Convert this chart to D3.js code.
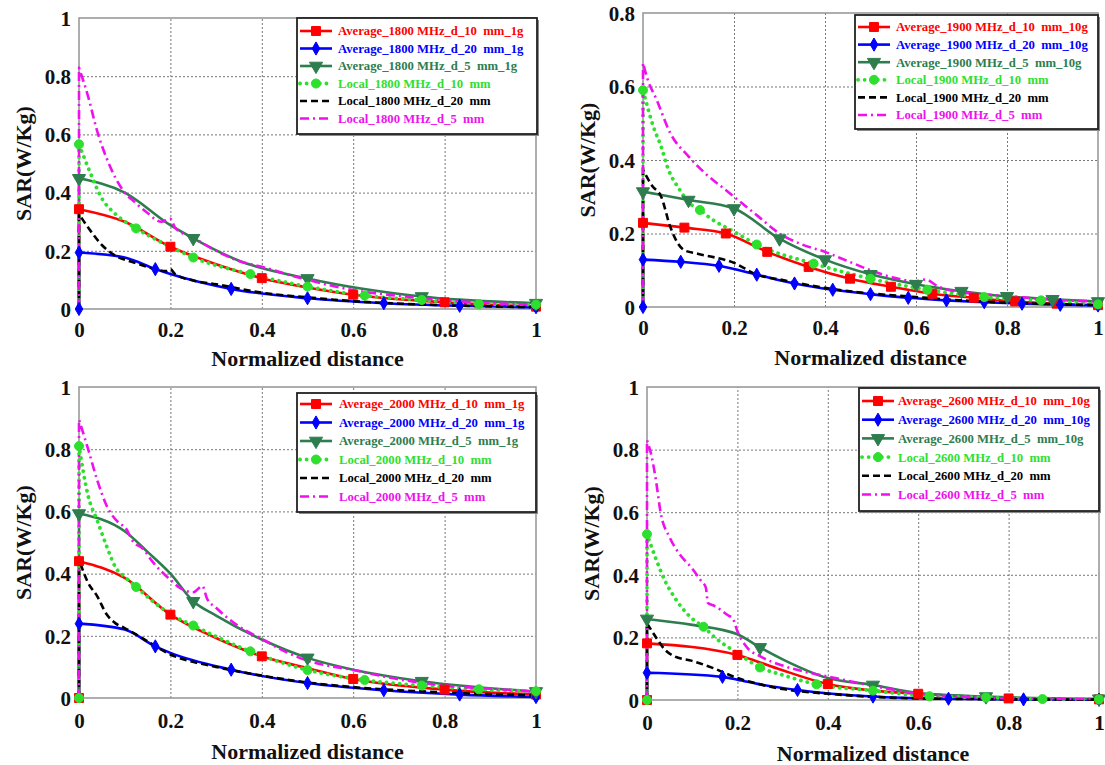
<!DOCTYPE html>
<html>
<head>
<meta charset="utf-8">
<script src="https://cdn.jsdelivr.net/npm/d3@7"></script>
<style>
body { margin: 0; background: #fff; }
svg text { font-family: "Liberation Serif", "Times New Roman", serif; font-weight: bold; }
</style>
</head>
<body>
<svg id="chart" width="1105" height="765"></svg>
<script>
// ---- data ----
var xTickValues = [0, 0.2, 0.4, 0.6, 0.8, 1];
var yTickValues1 = [0, 0.2, 0.4, 0.6, 0.8, 1];
var yTickValues08 = [0, 0.2, 0.4, 0.6, 0.8];
var frequencies = ["1800", "1900", "2000", "2600"];
var massLabels = ["1g", "10g", "1g", "10g"];

// 1800 MHz
var p1Avg10 = [[0,0],[0,0.343],[0.1,0.30],[0.2,0.214],[0.3,0.154],[0.4,0.106],[0.5,0.074],[0.6,0.049],[0.8,0.023],[1,0.008]];
var p1Avg20 = [[0,0],[0,0.194],[0.1,0.177],[0.167,0.137],[0.2,0.12],[0.333,0.069],[0.5,0.037],[0.667,0.02],[0.833,0.011],[1,0.006]];
var p1Avg5  = [[0,0],[0,0.449],[0.1,0.40],[0.2,0.288],[0.25,0.243],[0.35,0.166],[0.5,0.105],[0.75,0.043],[1,0.02]];
var p1Loc10 = [[0,0],[0,0.566],[0.02,0.486],[0.05,0.38],[0.08,0.326],[0.125,0.277],[0.2,0.214],[0.25,0.177],[0.375,0.12],[0.5,0.077],[0.625,0.046],[0.75,0.031],[0.875,0.017],[1,0.015]];
var p1Loc20 = [[0,0],[0,0.326],[0.02,0.28],[0.05,0.22],[0.08,0.183],[0.12,0.16],[0.16,0.14],[0.19,0.13],[0.2,0.137],[0.21,0.12],[0.25,0.098],[0.3,0.085],[0.4,0.056],[0.5,0.04],[0.6,0.027],[0.8,0.013],[1,0.006]];
var p1Loc5  = [[0,0],[0,0.829],[0.02,0.73],[0.04,0.61],[0.06,0.52],[0.1,0.40],[0.12,0.37],[0.15,0.33],[0.18,0.30],[0.2,0.31],[0.21,0.28],[0.25,0.245],[0.3,0.20],[0.35,0.165],[0.4,0.145],[0.5,0.1],[0.6,0.065],[0.7,0.045],[0.8,0.03],[0.9,0.02],[1,0.015]];

// 1900 MHz
var p2Avg10 = [[0,0],[0,0.229],[0.091,0.216],[0.182,0.2],[0.273,0.15],[0.364,0.109],[0.455,0.077],[0.545,0.055],[0.636,0.036],[0.727,0.025],[0.818,0.015],[0.909,0.009],[1,0.005]];
var p2Avg20 = [[0,0],[0,0.129],[0.083,0.123],[0.167,0.112],[0.25,0.088],[0.333,0.064],[0.417,0.047],[0.5,0.035],[0.583,0.025],[0.667,0.018],[0.75,0.013],[0.833,0.009],[0.917,0.006],[1,0.004]];
var p2Avg5  = [[0,0],[0,0.314],[0.1,0.291],[0.2,0.268],[0.3,0.186],[0.4,0.129],[0.5,0.089],[0.6,0.062],[0.7,0.043],[0.8,0.029],[0.9,0.021],[1,0.015]];
var p2Loc10 = [[0,0],[0,0.59],[0.023,0.49],[0.04,0.436],[0.054,0.38],[0.08,0.32],[0.1,0.285],[0.125,0.264],[0.15,0.24],[0.2,0.205],[0.25,0.17],[0.375,0.118],[0.5,0.077],[0.625,0.047],[0.75,0.027],[0.875,0.018],[1,0.007]];
var p2Loc20 = [[0,0],[0,0.373],[0.02,0.33],[0.04,0.30],[0.06,0.218],[0.09,0.155],[0.12,0.145],[0.2,0.12],[0.25,0.088],[0.3,0.075],[0.4,0.052],[0.5,0.037],[0.6,0.027],[0.7,0.018],[0.8,0.012],[1,0.005]];
var p2Loc5  = [[0,0],[0,0.664],[0.01,0.62],[0.03,0.564],[0.06,0.473],[0.1,0.41],[0.14,0.36],[0.18,0.32],[0.2,0.3],[0.25,0.25],[0.3,0.2],[0.35,0.17],[0.4,0.15],[0.45,0.125],[0.5,0.1],[0.55,0.08],[0.6,0.07],[0.62,0.075],[0.65,0.055],[0.7,0.04],[0.8,0.03],[0.9,0.02],[1,0.015]];

// 2000 MHz
var p3Avg10 = [[0,0],[0,0.44],[0.1,0.386],[0.2,0.268],[0.3,0.193],[0.4,0.134],[0.5,0.096],[0.6,0.061],[0.8,0.027],[1,0.011]];
var p3Avg20 = [[0,0],[0,0.239],[0.1,0.22],[0.167,0.166],[0.2,0.145],[0.333,0.091],[0.5,0.048],[0.667,0.025],[0.833,0.011],[1,0.003]];
var p3Avg5  = [[0,0],[0,0.593],[0.1,0.536],[0.15,0.47],[0.2,0.40],[0.25,0.311],[0.3,0.265],[0.4,0.188],[0.5,0.129],[0.6,0.091],[0.75,0.054],[1,0.021]];
var p3Loc10 = [[0,0],[0,0.81],[0.02,0.65],[0.04,0.57],[0.06,0.49],[0.08,0.42],[0.1,0.39],[0.125,0.357],[0.2,0.27],[0.25,0.233],[0.375,0.15],[0.5,0.09],[0.625,0.058],[0.75,0.04],[0.875,0.028],[1,0.022]];
var p3Loc20 = [[0,0],[0,0.445],[0.02,0.37],[0.04,0.327],[0.06,0.27],[0.08,0.24],[0.1,0.225],[0.13,0.2],[0.2,0.14],[0.3,0.1],[0.4,0.072],[0.5,0.05],[0.6,0.035],[0.8,0.018],[1,0.008]];
var p3Loc5  = [[0,0],[0,0.895],[0.02,0.8],[0.04,0.7],[0.06,0.62],[0.09,0.56],[0.1,0.55],[0.12,0.5],[0.14,0.48],[0.16,0.44],[0.2,0.38],[0.22,0.355],[0.25,0.34],[0.27,0.36],[0.28,0.32],[0.3,0.29],[0.35,0.23],[0.4,0.19],[0.45,0.15],[0.5,0.12],[0.6,0.09],[0.7,0.06],[0.8,0.04],[0.9,0.03],[1,0.02]];

// 2600 MHz
var p4Avg10 = [[0,0],[0,0.181],[0.2,0.144],[0.25,0.12],[0.3,0.095],[0.4,0.051],[0.5,0.03],[0.6,0.02],[0.8,0.005],[1,0.002]];
var p4Avg20 = [[0,0],[0,0.087],[0.167,0.074],[0.2,0.065],[0.25,0.05],[0.333,0.032],[0.5,0.011],[0.667,0.004],[0.833,0.002],[1,0.001]];
var p4Avg5  = [[0,0],[0,0.259],[0.1,0.24],[0.2,0.21],[0.25,0.168],[0.3,0.13],[0.4,0.07],[0.5,0.048],[0.6,0.022],[0.75,0.011],[1,0.004]];
var p4Loc10 = [[0,0],[0,0.53],[0.02,0.45],[0.04,0.38],[0.06,0.33],[0.08,0.29],[0.1,0.26],[0.125,0.234],[0.15,0.2],[0.2,0.15],[0.25,0.104],[0.3,0.08],[0.375,0.05],[0.5,0.03],[0.625,0.012],[0.75,0.008],[0.875,0.003],[1,0.002]];
var p4Loc20 = [[0,0],[0,0.245],[0.02,0.2],[0.04,0.16],[0.06,0.14],[0.1,0.125],[0.15,0.1],[0.2,0.07],[0.25,0.05],[0.3,0.035],[0.4,0.02],[0.5,0.01],[0.6,0.005],[1,0.001]];
var p4Loc5  = [[0,0],[0,0.83],[0.01,0.78],[0.02,0.7],[0.03,0.6],[0.05,0.52],[0.07,0.47],[0.1,0.42],[0.12,0.38],[0.13,0.36],[0.135,0.31],[0.15,0.3],[0.18,0.27],[0.19,0.26],[0.2,0.22],[0.22,0.17],[0.25,0.14],[0.3,0.11],[0.35,0.09],[0.4,0.075],[0.5,0.045],[0.6,0.02],[0.7,0.01],[0.8,0.005],[1,0.003]];

// marker spacing along x for each series (null = no markers)
var markerStepsA = [0.2, 1/6, 0.25, 0.125, null, null];
var markerStepsB = [1/11, 1/12, 0.1, 0.125, null, null];

// ---- styles ----
var seriesStyle = [
  {color: "#ff0000", dash: null, width: 2.6, marker: "square"},
  {color: "#0000ff", dash: null, width: 2.6, marker: "diamond"},
  {color: "#2e7d4e", dash: null, width: 2.6, marker: "triangle"},
  {color: "#2ee02e", dash: "0.1,6.5", width: 3.8, marker: "circle"},
  {color: "#000000", dash: "7,4", width: 2.6, marker: null},
  {color: "#ee11ee", dash: "9,4,2,4", width: 2.6, marker: null}
];

var panels = [
  {series: [p1Avg10,p1Avg20,p1Avg5,p1Loc10,p1Loc20,p1Loc5], steps: markerStepsA, zeroMarks: [1],
   yMax: 1, yTicks: yTickValues1, left: 79, right: 536, top: 18, bottom: 309,
   legend: {x: 297, y: 18, w: 240, h: 116, first: 13, row: 17.5, tx: 41}, tickDy: 28, titleDy: 57},
  {series: [p2Avg10,p2Avg20,p2Avg5,p2Loc10,p2Loc20,p2Loc5], steps: markerStepsB, zeroMarks: [1],
   yMax: 0.8, yTicks: yTickValues08, left: 643, right: 1098, top: 13, bottom: 307,
   legend: {x: 855, y: 15, w: 243, h: 114, first: 12, row: 17.6, tx: 41}, tickDy: 28, titleDy: 58},
  {series: [p3Avg10,p3Avg20,p3Avg5,p3Loc10,p3Loc20,p3Loc5], steps: markerStepsA, zeroMarks: [0, 3],
   yMax: 1, yTicks: yTickValues1, left: 79, right: 536, top: 387, bottom: 698,
   legend: {x: 297, y: 393, w: 239, h: 119, first: 11, row: 18.5, tx: 42}, tickDy: 30, titleDy: 61},
  {series: [p4Avg10,p4Avg20,p4Avg5,p4Loc10,p4Loc20,p4Loc5], steps: markerStepsA, zeroMarks: [0, 3],
   yMax: 1, yTicks: yTickValues1, left: 647, right: 1099, top: 387, bottom: 700,
   legend: {x: 859, y: 388, w: 240, h: 123, first: 13, row: 18.7, tx: 39}, tickDy: 30, titleDy: 61}
];

var svg = d3.select("#chart");
var fmt = d3.format("~g");

function symbolFor(type) {
  if (type === "square") return d3.symbol().type(d3.symbolSquare).size(80)();
  if (type === "diamond") return d3.symbol().type(d3.symbolDiamond).size(50)();
  if (type === "triangle") return d3.symbol().type(d3.symbolTriangle).size(75)();
  return d3.symbol().type(d3.symbolCircle).size(64)();
}

function legendLabels(i) {
  var f = frequencies[i], m = massLabels[i];
  return ["Average_" + f + " MHz_d_10  mm_" + m,
          "Average_" + f + " MHz_d_20  mm_" + m,
          "Average_" + f + " MHz_d_5  mm_" + m,
          "Local_" + f + " MHz_d_10  mm",
          "Local_" + f + " MHz_d_20  mm",
          "Local_" + f + " MHz_d_5  mm"];
}

function drawMarker(g, type, color, x, y) {
  g.append("path")
    .attr("d", symbolFor(type))
    .attr("transform", "translate(" + x + "," + y + ")" + (type === "triangle" ? " rotate(180)" : ""))
    .attr("fill", color)
    .attr("stroke", color)
    .attr("stroke-width", 1);
}

panels.forEach(function(p, pi) {
  var x = d3.scaleLinear().domain([0, 1]).range([p.left, p.right]);
  var y = d3.scaleLinear().domain([0, p.yMax]).range([p.bottom, p.top]);
  var g = svg.append("g");

  // dotted grid
  g.append("g")
    .attr("transform", "translate(0," + p.bottom + ")")
    .call(d3.axisBottom(x).tickValues(xTickValues.slice(1, -1)).tickSize(-(p.bottom - p.top)).tickFormat(""))
    .call(function(a) { a.select(".domain").remove(); })
    .selectAll("line").attr("stroke", "#777").attr("stroke-width", 1).attr("stroke-dasharray", "2,2");
  g.append("g")
    .attr("transform", "translate(" + p.left + ",0)")
    .call(d3.axisLeft(y).tickValues(p.yTicks.slice(1, -1)).tickSize(-(p.right - p.left)).tickFormat(""))
    .call(function(a) { a.select(".domain").remove(); })
    .selectAll("line").attr("stroke", "#777").attr("stroke-width", 1).attr("stroke-dasharray", "2,2");

  // frame
  g.append("rect")
    .attr("x", p.left).attr("y", p.top)
    .attr("width", p.right - p.left).attr("height", p.bottom - p.top)
    .attr("fill", "none").attr("stroke", "#9a9a9a").attr("stroke-width", 1.6);

  // tick labels
  var xa = g.append("g")
    .attr("transform", "translate(0," + p.bottom + ")")
    .call(d3.axisBottom(x).tickValues(xTickValues).tickSize(0).tickFormat(fmt));
  xa.select(".domain").remove();
  xa.selectAll("text").attr("y", p.tickDy).attr("dy", null)
    .attr("font-size", 21).attr("fill", "#111")
    .style("font-family", "'Liberation Serif', serif").style("font-weight", "bold");

  var ya = g.append("g")
    .attr("transform", "translate(" + p.left + ",0)")
    .call(d3.axisLeft(y).tickValues(p.yTicks).tickSize(0).tickPadding(8).tickFormat(fmt));
  ya.select(".domain").remove();
  ya.selectAll("text").attr("dy", "0.35em")
    .attr("font-size", 21).attr("fill", "#111")
    .style("font-family", "'Liberation Serif', serif").style("font-weight", "bold");

  // axis titles
  g.append("text")
    .attr("x", (p.left + p.right) / 2).attr("y", p.bottom + p.titleDy)
    .attr("text-anchor", "middle").attr("font-size", 22).attr("fill", "#111")
    .text("Normalized distance");
  g.append("text")
    .attr("transform", "translate(" + (p.left - 48) + "," + ((p.top + p.bottom) / 2) + ") rotate(-90)")
    .attr("text-anchor", "middle").attr("font-size", 22).attr("fill", "#111")
    .text("SAR(W/Kg)");

  // curves: straight rise along the axis, then a monotone curve
  var riseLine = d3.line()
    .x(function(d) { return x(d[0]); })
    .y(function(d) { return y(d[1]); });
  var curveLine = d3.line()
    .curve(d3.curveMonotoneX)
    .x(function(d) { return x(d[0]); })
    .y(function(d) { return y(d[1]); });

  p.series.forEach(function(data, si) {
    var st = seriesStyle[si];
    var rest = curveLine(data.slice(1));
    g.append("path")
      .attr("d", riseLine(data.slice(0, 2)) + "L" + rest.slice(1))
      .attr("fill", "none")
      .attr("stroke", st.color)
      .attr("stroke-width", st.width)
      .attr("stroke-linecap", st.marker === "circle" ? "round" : "butt")
      .attr("stroke-linejoin", "round")
      .attr("stroke-dasharray", st.dash);
  });

  // markers on top
  p.series.forEach(function(data, si) {
    var st = seriesStyle[si], step = p.steps[si];
    if (!step) return;
    data.forEach(function(d, k) {
      if (k === 0 && p.zeroMarks.indexOf(si) < 0) return;
      var r = d[0] / step;
      if (Math.abs(r - Math.round(r)) < 0.03) drawMarker(g, st.marker, st.color, x(d[0]), y(d[1]));
    });
  });

  // legend
  var L = p.legend;
  var lg = g.append("g").attr("transform", "translate(" + L.x + "," + L.y + ")");
  lg.append("rect").attr("x", 2).attr("y", 2).attr("width", L.w).attr("height", L.h).attr("fill", "#8a8a8a");
  lg.append("rect").attr("width", L.w).attr("height", L.h)
    .attr("fill", "#fff").attr("stroke", "#222").attr("stroke-width", 1.8);
  legendLabels(pi).forEach(function(label, si) {
    var st = seriesStyle[si];
    var ry = L.first + si * L.row;
    lg.append("line")
      .attr("x1", 3).attr("x2", 35).attr("y1", ry).attr("y2", ry)
      .attr("stroke", st.color).attr("stroke-width", st.width)
      .attr("stroke-linecap", st.marker === "circle" ? "round" : "butt")
      .attr("stroke-dasharray", st.dash);
    if (st.marker) drawMarker(lg, st.marker, st.color, 19, ry);
    lg.append("text")
      .attr("x", L.tx).attr("y", ry).attr("dy", "0.35em")
      .attr("font-size", 12.7).attr("fill", st.color)
      .attr("xml:space", "preserve").style("white-space", "pre")
      .text(label);
  });
});
</script>
</body>
</html>
